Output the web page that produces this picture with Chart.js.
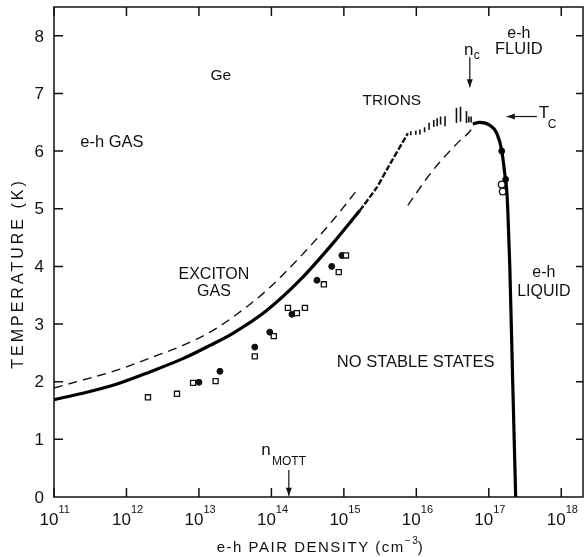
<!DOCTYPE html>
<html>
<head>
<meta charset="utf-8">
<script src="https://cdn.jsdelivr.net/npm/chart.js@4"></script>
<style>
  html, body { margin: 0; padding: 0; background: #fff; }
</style>
</head>
<body>
<canvas id="myChart" width="584" height="557" style="display:block"></canvas>
<script>
// decades shown on the density axis
const decades = [11, 12, 13, 14, 15, 16, 17, 18];
const tempTicks = [0, 1, 2, 3, 4, 5, 6, 7, 8];

// exciton gas boundary (thick solid)
const solidX = [1e11, 2.5e11, 7.4e11, 2.1e12, 6.0e12, 1.42e13, 2.94e13, 8.7e13, 2.47e14, 7.05e14, 1.66e15];
const solidT = [1.69, 1.80, 1.96, 2.17, 2.40, 2.63, 2.84, 3.24, 3.76, 4.40, 4.97];

// continuation towards trions (jagged)
const jagX = [1.66e15, 2.85e15, 3.88e15, 7.64e15];
const jagT = [4.97, 5.37, 5.67, 6.31];

// upper dashed curve
const dashX = [1e11, 2.5e11, 7.4e11, 2.1e12, 6.0e12, 1.42e13, 2.94e13, 8.7e13, 2.47e14, 7.05e14, 1.51e15];
const dashT = [1.89, 2.03, 2.20, 2.41, 2.63, 2.86, 3.12, 3.59, 4.16, 4.80, 5.32];

// right dashed curve up to Tc
const dash2X = [7.64e15, 1.40e16, 2.11e16, 3.62e16, 6.01e16, 6.41e16];
const dash2T = [5.06, 5.53, 5.81, 6.13, 6.41, 6.48];

// e-h liquid coexistence curve
const liqX = [6.01e16, 7.52e16, 1.03e17, 1.29e17, 1.51e17, 1.66e17, 1.77e17, 1.83e17, 1.95e17, 2.14e17, 2.35e17];
const liqT = [6.47, 6.50, 6.45, 6.31, 6.01, 5.61, 5.32, 4.97, 3.99, 1.98, 0];

// trion hatch marks (half length in px)
const hatchX = [8.39e15, 9.84e15, 1.12e16, 1.30e16, 1.50e16, 1.74e16, 1.94e16, 2.16e16, 2.49e16, 3.58e16, 4.07e16, 4.92e16, 5.3e16, 5.7e16];
const hatchT = [6.31, 6.32, 6.33, 6.37, 6.43, 6.48, 6.50, 6.53, 6.52, 6.62, 6.64, 6.59, 6.55, 6.55];
const hatchLen = [2, 2, 2.5, 2.5, 3.5, 3.5, 4, 4, 5, 7.5, 7.5, 6, 3, 3];

// data points
const squareX = [1.98e12, 4.98e12, 8.3e12, 1.7e13, 5.9e13, 1.08e14, 1.69e14, 2.25e14, 2.9e14, 5.3e14, 8.5e14, 1.07e15];
const squareT = [1.73, 1.79, 1.98, 2.01, 2.44, 2.79, 3.28, 3.19, 3.28, 3.69, 3.90, 4.19];
const dotX = [1.0e13, 1.95e13, 5.9e13, 9.5e13, 1.92e14, 4.25e14, 6.8e14, 9.4e14, 1.51e17, 1.71e17];
const dotT = [1.99, 2.18, 2.60, 2.86, 3.17, 3.76, 4.0, 4.19, 6.0, 5.51];
const ringX = [1.51e17, 1.56e17];
const ringT = [5.42, 5.30];

function pts(xs, ys) { return xs.map((x, i) => ({ x: x, y: ys[i] })); }

const FONT = '"Liberation Sans", Arial, sans-serif';

function txt(ctx, s, x, y, size, align) {
    ctx.font = size + 'px ' + FONT;
    ctx.textAlign = align || 'center';
    ctx.fillText(s, x, y);
}

function arrow(ctx, x1, y1, x2, y2) {
    ctx.beginPath();
    ctx.moveTo(x1, y1);
    ctx.lineTo(x2, y2);
    ctx.stroke();
    const a = Math.atan2(y2 - y1, x2 - x1);
    ctx.beginPath();
    ctx.moveTo(x2, y2);
    ctx.lineTo(x2 - 8 * Math.cos(a) + 3 * Math.sin(a), y2 - 8 * Math.sin(a) - 3 * Math.cos(a));
    ctx.lineTo(x2 - 8 * Math.cos(a) - 3 * Math.sin(a), y2 - 8 * Math.sin(a) + 3 * Math.cos(a));
    ctx.closePath();
    ctx.fill();
}

const decor = {
    id: 'decor',
    afterDraw(chart) {
        const ctx = chart.ctx;
        const a = chart.chartArea;
        const xs = chart.scales.x, ys = chart.scales.y;
        const X = v => xs.getPixelForValue(v);
        const Y = v => ys.getPixelForValue(v);
        ctx.save();
        ctx.strokeStyle = '#111';
        ctx.fillStyle = '#111';
        ctx.lineWidth = 1.5;
        ctx.strokeRect(a.left, a.top, a.right - a.left, a.bottom - a.top);

        // ticks
        ctx.textBaseline = 'alphabetic';
        decades.forEach(k => {
            const px = X(Math.pow(10, k));
            ctx.beginPath();
            ctx.moveTo(px, a.bottom); ctx.lineTo(px, a.bottom - 9);
            ctx.moveTo(px, a.top); ctx.lineTo(px, a.top + 9);
            ctx.stroke();
            ctx.font = '17px ' + FONT;
            const w = ctx.measureText('10').width;
            txt(ctx, '10', px - 5, 525, 17, 'center');
            txt(ctx, String(k), px - 5 + w / 2, 513, 11, 'left');
        });
        tempTicks.forEach(t => {
            const py = Y(t);
            if (t > 0) {
                ctx.beginPath();
                ctx.moveTo(a.left, py); ctx.lineTo(a.left + 9, py);
                ctx.moveTo(a.right, py); ctx.lineTo(a.right - 7, py);
                ctx.stroke();
            }
            ctx.textBaseline = 'middle';
            txt(ctx, String(t), 44, py + 1, 17, 'right');
            ctx.textBaseline = 'alphabetic';
        });

        // axis titles
        ctx.save();
        ctx.translate(19, 275);
        ctx.rotate(-Math.PI / 2);
        ctx.letterSpacing = '3px';
        ctx.textBaseline = 'middle';
        txt(ctx, 'TEMPERATURE (K)', 1.5, 0, 16, 'center');
        ctx.restore();

        ctx.save();
        ctx.letterSpacing = '1.5px';
        ctx.font = '15px ' + FONT;
        const t1 = 'e-h PAIR DENSITY (cm';
        const w1 = ctx.measureText(t1).width;
        ctx.font = '10px ' + FONT;
        const w2 = ctx.measureText('-3').width;
        ctx.font = '15px ' + FONT;
        const w3 = ctx.measureText(')').width;
        const x0 = 320 - (w1 + w2 + w3) / 2;
        txt(ctx, t1, x0, 552, 15, 'left');
        txt(ctx, '\u22123', x0 + w1, 544, 10, 'left');
        txt(ctx, ')', x0 + w1 + w2 + 1, 552, 15, 'left');
        ctx.restore();

        // region labels
        ctx.textBaseline = 'middle';
        txt(ctx, 'Ge', X(2.0e13), Y(7.31), 15.5);
        txt(ctx, 'e-h GAS', X(6.3e11), Y(6.15), 16.5);
        txt(ctx, 'TRIONS', X(4.6e15), Y(6.88), 15.5);
        txt(ctx, 'e-h', X(2.6e17), Y(8.04), 16);
        txt(ctx, 'FLUID', X(2.6e17), Y(7.76), 16.5);
        txt(ctx, 'EXCITON', X(1.61e13), Y(3.86), 16);
        txt(ctx, 'GAS', X(1.61e13), Y(3.57), 16);
        txt(ctx, 'NO STABLE STATES', X(9.8e15), Y(2.34), 16.5);
        txt(ctx, 'e-h', X(5.75e17), Y(3.90), 16);
        txt(ctx, 'LIQUID', X(5.75e17), Y(3.57), 16);

        // n_c arrow
        ctx.lineWidth = 1.2;
        txt(ctx, 'n', X(5.3e16), 50, 17);
        txt(ctx, 'c', X(5.3e16) + 5, 56, 12, 'left');
        arrow(ctx, X(5.47e16), Y(7.63), X(5.47e16), Y(7.11));
        // T_c arrow
        arrow(ctx, X(4.6e17), Y(6.60), X(1.77e17), Y(6.60));
        txt(ctx, 'T', X(4.6e17) + 7, Y(6.65), 17);
        txt(ctx, 'C', X(4.6e17) + 11, Y(6.45), 12, 'left');
        // n_Mott arrow
        txt(ctx, 'n', 266, 450, 17);
        txt(ctx, 'MOTT', 272, 462, 12, 'left');
        arrow(ctx, X(1.74e14), Y(0.47), X(1.74e14), Y(0.02));
        ctx.restore();
    }
};

new Chart(document.getElementById('myChart').getContext('2d'), {
    type: 'scatter',
    data: {
        datasets: [
            { type: 'line', data: pts(solidX, solidT), borderColor: '#000', borderWidth: 3.2, pointRadius: 0, cubicInterpolationMode: 'monotone' },
            { type: 'line', data: pts(jagX, jagT), borderColor: '#111', borderWidth: 2.4, borderDash: [6, 2], pointRadius: 0, tension: 0.2 },
            { type: 'line', data: pts(dashX, dashT), borderColor: '#111', borderWidth: 1.4, borderDash: [9, 6], pointRadius: 0, cubicInterpolationMode: 'monotone' },
            { type: 'line', data: pts(dash2X, dash2T), borderColor: '#111', borderWidth: 1.4, borderDash: [9, 6], pointRadius: 0, cubicInterpolationMode: 'monotone' },
            { type: 'line', data: pts(liqX, liqT), borderColor: '#000', borderWidth: 3.2, pointRadius: 0, tension: 0.3, cubicInterpolationMode: 'monotone' },
            { data: pts(hatchX, hatchT), pointStyle: 'line', rotation: 90, pointRadius: hatchLen, borderColor: '#111', borderWidth: 1.6 },
            { data: pts(squareX, squareT), pointStyle: 'rect', pointRadius: 3.6, backgroundColor: '#fff', borderColor: '#111', borderWidth: 1.3 },
            { data: pts(dotX, dotT), pointStyle: 'circle', pointRadius: 3, backgroundColor: '#111', borderColor: '#111', borderWidth: 1 },
            { data: pts(ringX, ringT), pointStyle: 'circle', pointRadius: 3.4, backgroundColor: '#fff', borderColor: '#111', borderWidth: 1.3 }
        ]
    },
    options: {
        responsive: false,
        animation: false,
        layout: { autoPadding: false, padding: { left: 54, right: 1, top: 7, bottom: 60 } },
        plugins: { legend: { display: false }, tooltip: { enabled: false } },
        scales: {
            x: {
                type: 'logarithmic',
                display: false,
                min: 1e11,
                max: Math.pow(10, 18.3)
            },
            y: {
                display: false,
                min: 0,
                max: 8.5
            }
        }
    },
    plugins: [decor]
});
</script>
</body>
</html>
